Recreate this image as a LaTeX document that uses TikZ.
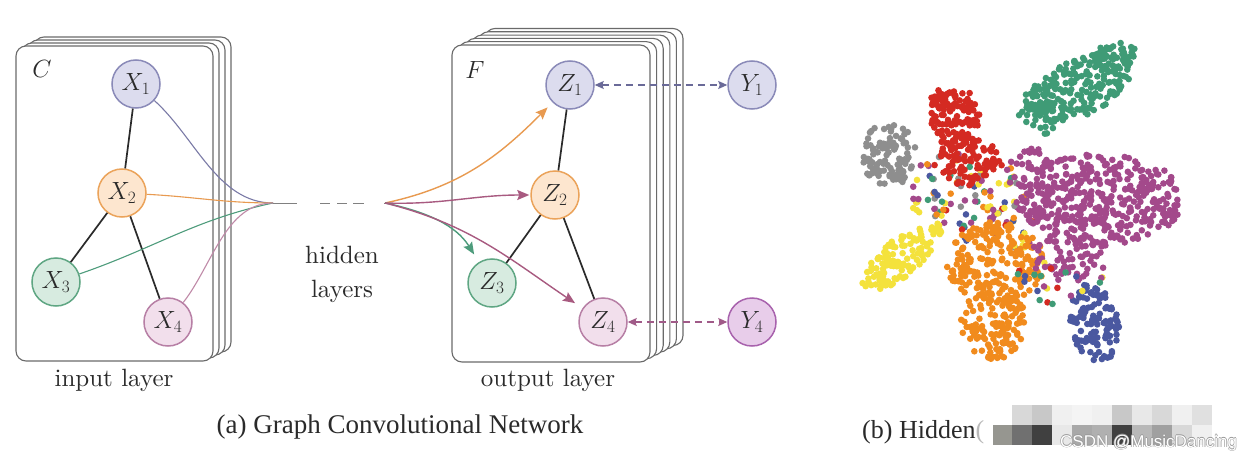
\documentclass[tikz,border=0pt]{standalone}
\usepackage{fontspec}
\setmainfont{lmroman10-regular}[Extension=.otf, ItalicFont=lmroman10-italic, BoldFont=lmroman10-bold]
\newfontfamily\capfont{Liberation Serif}
\newfontfamily\wmfont{Liberation Sans}
\usetikzlibrary{arrows.meta}

% palette
\definecolor{ink}{HTML}{2A2A2A}
\definecolor{cardgray}{HTML}{6A6A6A}
\definecolor{purF}{HTML}{DCDCEE}\definecolor{purD}{HTML}{8A8AB8}
\definecolor{oraF}{HTML}{FDE6CF}\definecolor{oraD}{HTML}{EBA35A}
\definecolor{grnF}{HTML}{D7EBE0}\definecolor{grnD}{HTML}{5FA683}
\definecolor{pnkF}{HTML}{F2DFEC}\definecolor{pnkD}{HTML}{B77FA5}
\definecolor{vioF}{HTML}{E8CDEA}\definecolor{vioD}{HTML}{A862AD}
\definecolor{fanP}{HTML}{7A7AA6}
\definecolor{fanO}{HTML}{E89A50}
\definecolor{fanG}{HTML}{4E9C7C}
\definecolor{fanM}{HTML}{A85A80}
\definecolor{fanK}{HTML}{C08AA8}
\definecolor{linkP}{HTML}{6A6A98}
\definecolor{linkM}{HTML}{A05A88}
% scatter colours
\definecolor{cgrn}{HTML}{3F9B76}
\definecolor{cred}{HTML}{D42A22}
\definecolor{cgry}{HTML}{8E8E8E}
\definecolor{cyel}{HTML}{F4E23C}
\definecolor{cora}{HTML}{F18B1D}
\definecolor{cpur}{HTML}{A3498B}
\definecolor{cblu}{HTML}{4A58A0}
\definecolor{patch}{RGB}{150,150,144}

% elliptic cloud of dots: colour, cx, cy (image rows grow downward), half-width, half-height, tilt, count
\newcommand\dotcloud[7]{%
  \foreach \k in {1,...,#7}{%
    \pgfmathsetmacro\dcR{sqrt(rnd)}%
    \pgfmathsetmacro\dcA{360*rnd}%
    \pgfmathsetmacro\dcU{#4*\dcR*cos(\dcA)}%
    \pgfmathsetmacro\dcV{#5*\dcR*sin(\dcA)}%
    \pgfmathsetmacro\dcX{#2+\dcU*cos(#6)-\dcV*sin(#6)}%
    \pgfmathsetmacro\dcY{#3+\dcU*sin(#6)+\dcV*cos(#6)}%
    \fill[#1] (\dcX,-\dcY) circle (3.3);
  }}
% same, with a colour drawn at random for every dot
\pgfmathdeclarerandomlist{dotmix}{{cyel}{cora}{cpur}{cgry}{cblu}{cred}{cgrn}{cpur}{cyel}}
\newcommand\mixcloud[5]{%
  \foreach \k in {1,...,#5}{%
    \pgfmathrandomitem{\dcC}{dotmix}%
    \pgfmathsetmacro\dcR{sqrt(rnd)}%
    \pgfmathsetmacro\dcA{360*rnd}%
    \pgfmathsetmacro\dcX{#1+#3*\dcR*cos(\dcA)}%
    \pgfmathsetmacro\dcY{#2+#4*\dcR*sin(\dcA)}%
    \fill[\dcC] (\dcX,-\dcY) circle (3.3);
  }}
% one grey mosaic tile
\newcommand\tile[3]{%
  \definecolor{tilec}{RGB}{#3,#3,#3}%
  \fill[tilec] (#1,#2) rectangle +(20,-20);}

\begin{document}
\begin{tikzpicture}[x=1pt,y=1pt,
  font=\fontsize{25}{30}\selectfont,
  card/.style={draw=cardgray, fill=white, line width=1.1pt, rounded corners=10pt},
  gnode/.style={circle, minimum size=48pt, inner sep=0pt, line width=1.5pt, text=ink},
  np/.style={gnode, draw=purD, fill=purF},
  no/.style={gnode, draw=oraD, fill=oraF},
  ng/.style={gnode, draw=grnD, fill=grnF},
  nk/.style={gnode, draw=pnkD, fill=pnkF},
  nv/.style={gnode, draw=vioD, fill=vioF},
  edge/.style={draw=ink, line width=1.7pt},
  fan/.style={line width=1.1pt},
  feed/.style={line width=1.4pt, -{Stealth[length=12pt,width=10pt,inset=2pt]}},
  label/.style={text=ink, anchor=base},
  link/.style={line width=1.2pt, dash pattern=on 7pt off 5pt,
    {Stealth[length=9pt,width=8pt,inset=1.5pt]}-{Stealth[length=9pt,width=8pt,inset=1.5pt]}}
]
\useasboundingbox (0,0) rectangle (1250,-460);
\fill[white] (0,0) rectangle (1250,-460);

% ---- input layer: stack of feature maps ----
\foreach \k in {3,2,1}
  \draw[card] ({16+6*\k},{-46+3*\k}) rectangle ({213+6*\k},{-361+3*\k});
\draw[card] (16,-46) rectangle (213,-361);
\node[text=ink] (C) at (42,-69) {$C$};

% ---- output layer: stack of feature maps ----
\foreach \k in {5,4,3,2,1}
  \draw[card] ({452+6.6*\k},{-45+3.3*\k}) rectangle ({650+6.6*\k},{-362+3.3*\k});
\draw[card] (452,-45) rectangle (650,-362);
\node[text=ink] (F) at (475,-70) {$F$};

% ---- convergence points of the hidden layers ----
\coordinate (P) at (273,-203);
\coordinate (Q) at (385,-203);

% ---- graph nodes ----
\node[np] (X1) at (136,-84)  {$X_1$};
\node[no] (X2) at (122,-193) {$X_2$};
\node[ng] (X3) at (56,-282)  {$X_3$};
\node[nk] (X4) at (168,-322) {$X_4$};

\node[np] (Z1) at (570,-85)  {$Z_1$};
\node[no] (Z2) at (555,-195) {$Z_2$};
\node[ng] (Z3) at (492,-283) {$Z_3$};
\node[nk] (Z4) at (603,-322) {$Z_4$};

\node[np] (Y1) at (752,-85)  {$Y_1$};
\node[nv] (Y4) at (752,-322) {$Y_4$};

% ---- graph edges ----
\draw[edge] (X1) -- (X2);
\draw[edge] (X2) -- (X3);
\draw[edge] (X2) -- (X4);
\draw[edge] (Z1) -- (Z2);
\draw[edge] (Z2) -- (Z3);
\draw[edge] (Z2) -- (Z4);

% ---- inputs gathered into the hidden layers ----
\draw[fan, fanP] (X1) to[out=-42, in=180, looseness=0.9] (P);
\draw[fan, fanO] (X2) to[out=-3, in=180] (P);
\draw[fan, fanG] (X3) to[out=19, in=192] (P);
\draw[fan, fanK] (X4) to[out=52, in=180, looseness=0.9] (P);

\draw[line width=1pt, gray,
  dash pattern=on 24pt off 23pt on 10pt off 7pt on 10pt off 6pt on 11pt off 20pt]
  (P) -- (Q);

% ---- hidden layers spread onto the outputs ----
\draw[feed, fanO, shorten >=7pt] (Q) to[out=12, in=225] (Z1);
\draw[feed, fanM, shorten >=1pt] (Q) to[out=-2, in=180] (Z2);
\draw[feed, fanG, shorten >=9pt] (Q) to[out=-12, in=122] (Z3);
\draw[feed, fanM, shorten >=9pt] (Q) to[out=-14, in=146] (Z4);

% ---- supervision on labelled nodes ----
\draw[link, linkP] (Z1) -- (Y1);
\draw[link, linkM] (Z4) -- (Y4);

% ---- layer labels ----
\node[label] (inl)  at (114,-386) {input layer};
\node[label] (outl) at (548,-386) {output layer};
\node[label] (hid1) at (342,-263) {hidden};
\node[label] (hid2) at (342,-297) {layers};

% ---- captions ----
\node[anchor=base, text=ink, font=\capfont\fontsize{27}{30}\selectfont] (capa)
  at (400,-433) {(a) Graph Convolutional Network};
\node[anchor=base west, inner sep=0pt, text=ink, font=\capfont\fontsize{26}{30}\selectfont] (capb)
  at (862,-438) {(b) Hidden\textcolor{gray!55}{(}};

% ---- hidden-layer activations: embedded nodes ----
\pgfmathsetseed{7}
\mixcloud{965}{190}{60}{38}{90}
\mixcloud{1000}{228}{40}{25}{30}
\dotcloud{cgry}{889}{155}{28}{32}{0}{110}
\dotcloud{cred}{955}{118}{24}{30}{10}{95}
\dotcloud{cred}{970}{160}{30}{28}{0}{95}
\dotcloud{cred}{942}{100}{14}{10}{0}{22}
\dotcloud{cgrn}{1078}{88}{58}{28}{-25}{190}
\dotcloud{cgrn}{1038}{112}{20}{26}{0}{45}
\dotcloud{cgrn}{1115}{58}{24}{16}{0}{45}
\dotcloud{cyel}{902}{257}{50}{19}{-40}{120}
\dotcloud{cora}{995}{262}{50}{40}{0}{190}
\dotcloud{cora}{993}{320}{32}{40}{0}{140}
\dotcloud{cpur}{1100}{200}{84}{46}{0}{380}
\dotcloud{cpur}{1070}{255}{40}{26}{0}{70}
\dotcloud{cpur}{1030}{170}{25}{22}{0}{40}
\dotcloud{cblu}{1095}{323}{25}{40}{-10}{120}
\mixcloud{1060}{280}{45}{25}{25}

% ---- pixelated patch and watermark ----
\fill[patch] (993,-425) rectangle (1012,-445);
\foreach \g [count=\i from 0] in {216,200,240,244,240,200,232,216,240,224}
  {\tile{1012+20*\i}{-405}{\g}}
\foreach \g [count=\i from 0] in {112,64,232,168,176,64,184,160,216,240}
  {\tile{1012+20*\i}{-425}{\g}}
\foreach \dx/\dy in {-0.6/0,0.6/0,0/0.6,0/-0.6}
  \node[anchor=base west, inner sep=0pt, text=gray!80, font=\wmfont\fontsize{17}{20}\selectfont]
    at ({1060+\dx},{-447+\dy}) {CSDN @MusicDancing};
\node[anchor=base west, inner sep=0pt, text=white, font=\wmfont\fontsize{17}{20}\selectfont] (wm)
  at (1060,-447) {CSDN @MusicDancing};
\end{tikzpicture}
\end{document}
